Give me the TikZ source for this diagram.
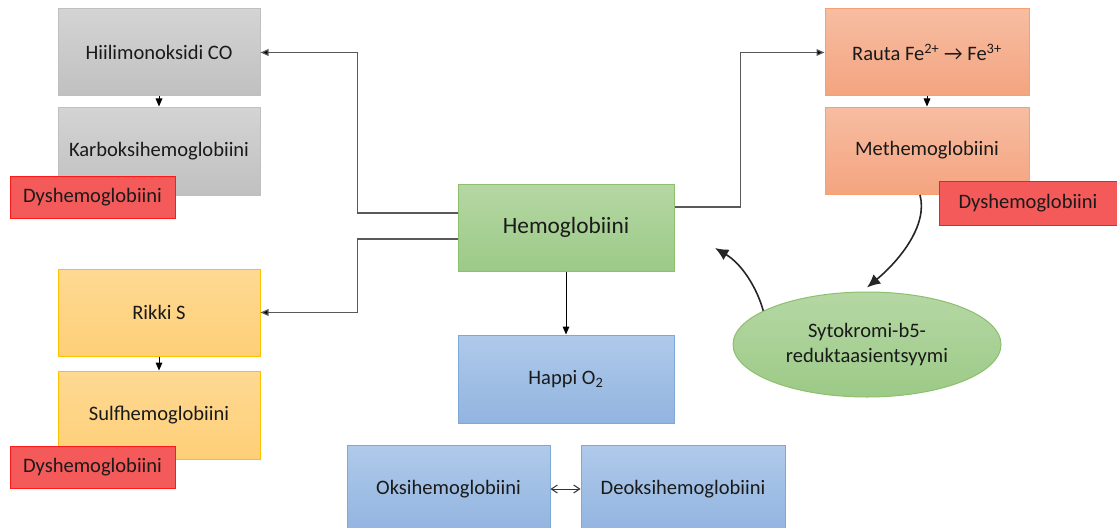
\documentclass[tikz,border=0pt]{standalone}
\usepackage{fontspec}
\setmainfont{Carlito}
\usetikzlibrary{arrows.meta,shapes.geometric}
\definecolor{txt}{HTML}{1A1A1A}
\definecolor{grayT}{HTML}{D4D4D4}\definecolor{grayB}{HTML}{C0C0C0}\definecolor{grayD}{HTML}{BFBFBF}
\definecolor{orT}{HTML}{F7BDA2}\definecolor{orB}{HTML}{F4A47F}\definecolor{orD}{HTML}{F4A070}
\definecolor{yeT}{HTML}{FED993}\definecolor{yeB}{HTML}{FECF78}\definecolor{yeD}{HTML}{FFC000}
\definecolor{grT}{HTML}{B5D7A4}\definecolor{grB}{HTML}{9CCA87}\definecolor{grD}{HTML}{8DC06E}
\definecolor{blT}{HTML}{AFCAEA}\definecolor{blB}{HTML}{92B4E0}\definecolor{blD}{HTML}{7EA8D8}
\definecolor{reF}{HTML}{F45A5A}\definecolor{reD}{HTML}{FF1A1A}
\definecolor{lineG}{HTML}{595959}
\begin{document}
\begin{tikzpicture}[x=0.75pt,y=-0.75pt,
  box/.style={rectangle,line width=0.75pt,inner sep=0pt,text=txt,
    font=\fontsize{15.4}{19}\selectfont,minimum width=151.5pt,minimum height=65.25pt},
  graybox/.style={box,draw=grayD,top color=grayT,bottom color=grayB},
  orbox/.style={box,draw=orD,top color=orT,bottom color=orB},
  yebox/.style={box,draw=yeD,top color=yeT,bottom color=yeB},
  grbox/.style={box,draw=grD,top color=grT,bottom color=grB},
  blbox/.style={box,draw=blD,top color=blT,bottom color=blB},
  dysbox/.style={box,draw=reD,fill=reF,minimum width=123.75pt,minimum height=31.5pt},
  conn/.style={draw=lineG,line width=0.9pt,-{Triangle[length=6pt,width=5pt,fill=black]}},
  shortarr/.style={draw=black,line width=0.75pt,-{Triangle[length=6pt,width=5pt]}},
  curv/.style={draw=black!85,line width=1.2pt,-{Latex[length=10pt,width=9pt]}},
  dbl/.style={draw=black!80,line width=0.75pt,{Straight Barb[length=4.5pt,width=6pt]}-{Straight Barb[length=4.5pt,width=6pt]}}
]
\useasboundingbox (0,0) rectangle (1117,528);
% left column
\node[graybox] (hiili) at (159,52.5) {Hiilimonoksidi CO};
\node[graybox,minimum height=66pt] (karb) at (159,151) {Karboksihemoglobiini};
\node[dysbox] (dys1) at (92.5,197) {Dyshemoglobiini};
\node[yebox] (rikki) at (159,312.5) {Rikki S};
\node[yebox,minimum height=66pt] (sulf) at (159,415) {Sulfhemoglobiini};
\node[dysbox] (dys2) at (92.5,467) {Dyshemoglobiini};
% centre
\node[grbox,minimum width=162pt,font=\fontsize{17.5}{21}\selectfont] (hemo) at (566,227.5) {Hemoglobiini};
\node[blbox,minimum width=162pt,minimum height=66pt] (happi) at (566,379) {Happi O\textsubscript{2}};
\node[blbox,minimum width=152.25pt,minimum height=66pt] (oksi) at (448.5,489) {Oksihemoglobiini};
\node[blbox,minimum width=153pt,minimum height=66pt] (deoksi) at (683,489) {Deoksihemoglobiini};
% right column
\node[orbox,minimum width=153pt] (rauta) at (927,52.5) {Rauta Fe\textsuperscript{2+} → Fe\textsuperscript{3+}};
\node[orbox,minimum width=153pt] (meth) at (927,150.5) {Methemoglobiini};
\node[dysbox,minimum width=133.5pt,minimum height=33pt] (dys3) at (1028,203) {Dyshemoglobiini};
\node[ellipse,line width=0.75pt,draw=grD,top color=grT,bottom color=grB,text=txt,
  minimum width=201pt,minimum height=78.75pt,inner sep=0pt,align=center,
  font=\fontsize{15.4}{19}\selectfont] (ell) at (867,344.5) {Sytokromi-b5-\\reduktaasientsyymi};
% connectors
\draw[conn] ([yshift=10.875pt]hemo.west) -- ++(-100,0) |- (hiili.east);
\draw[conn] ([yshift=-8.625pt]hemo.west) -- ++(-100,0) |- (rikki.east);
\draw[conn] ([yshift=15.375pt]hemo.east) -- ++(66,0) |- (rauta.west);
\draw[shortarr] (hiili.south) -- (karb.north);
\draw[shortarr] (rikki.south) -- (sulf.north);
\draw[shortarr] (rauta.south) -- (meth.north);
\draw[shortarr] (hemo.south) -- (happi.north);
\draw[dbl] (oksi.east) -- (deoksi.west);
\coordinate (c1s) at (920,195);
\coordinate (c2e) at (715,248);
\draw[curv] (c1s) .. controls (928,225) and (900,260) .. ([yshift=3pt]ell.north);
\draw[curv] (ell.162) .. controls (757,288) and (742,264) .. (c2e);
\end{tikzpicture}
\end{document}
